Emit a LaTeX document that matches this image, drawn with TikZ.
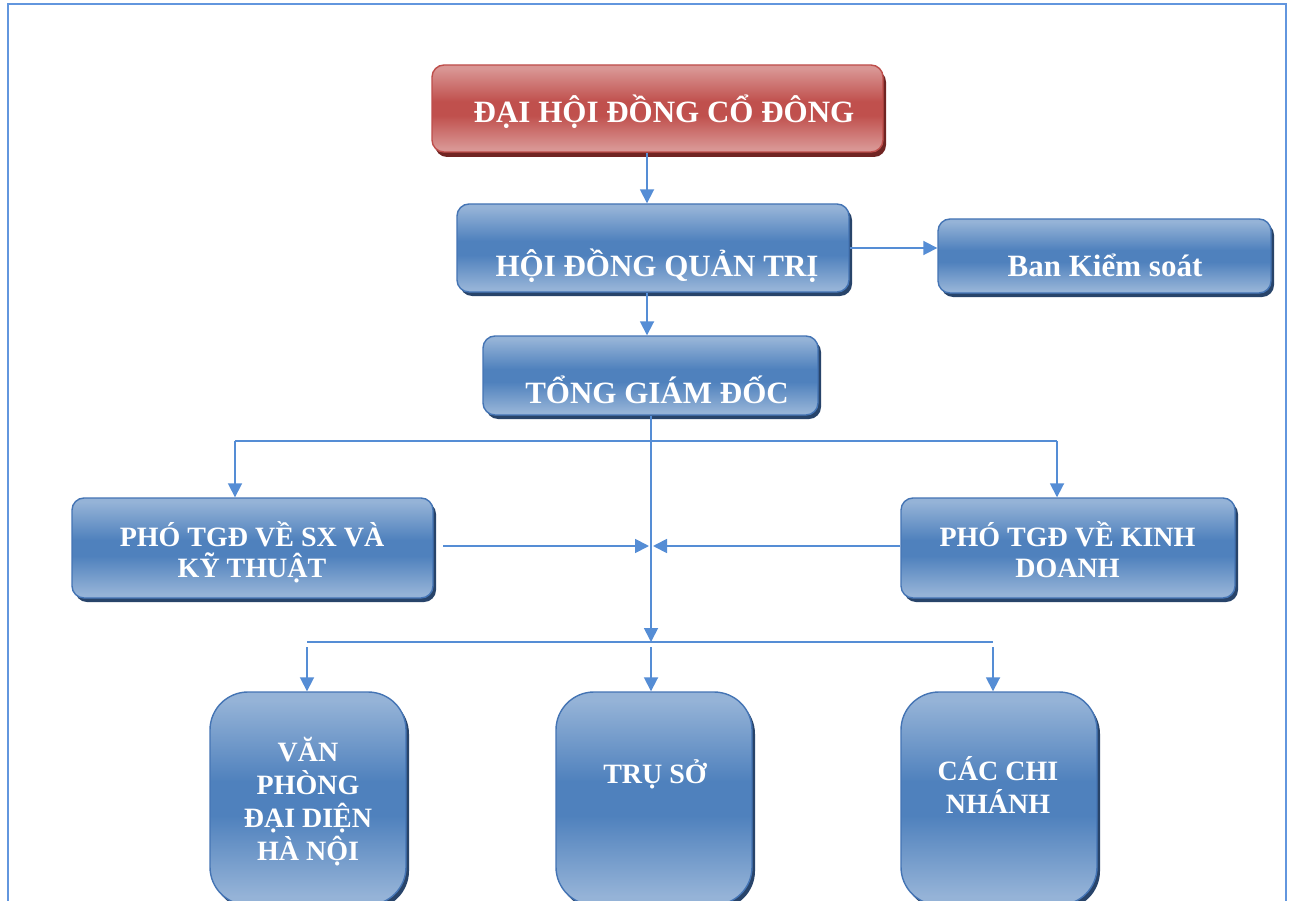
\documentclass[tikz,border=0pt]{standalone}
\usepackage{fontspec}
\setmainfont{Liberation Serif}
\usetikzlibrary{arrows.meta,shadows,calc}

\definecolor{bl}{RGB}{149,179,215}
\definecolor{bd}{RGB}{79,129,189}
\definecolor{rl}{RGB}{217,150,148}
\definecolor{rd}{RGB}{192,80,77}
\definecolor{bbord}{RGB}{68,116,180}
\definecolor{rbord}{RGB}{190,78,75}
\definecolor{bshad}{RGB}{40,68,106}
\definecolor{rshad}{RGB}{112,36,34}
\definecolor{lnc}{RGB}{85,141,213}
\definecolor{frm}{RGB}{98,150,222}

\pgfdeclareverticalshading{bglass}{100bp}{color(0bp)=(bl); color(27bp)=(bl); color(46bp)=(bd); color(54bp)=(bd); color(73bp)=(bl); color(100bp)=(bl)}
\pgfdeclareverticalshading{rglass}{100bp}{color(0bp)=(rl); color(27bp)=(rl); color(46bp)=(rd); color(54bp)=(rd); color(73bp)=(rl); color(100bp)=(rl)}

\tikzset{
  bbox/.style={rounded corners=12pt, draw=bbord, line width=1.4pt, shading=bglass, inner sep=0pt,
    drop shadow={shadow xshift=3pt, shadow yshift=-4pt, fill=bshad, opacity=1}},
  rbox/.style={rounded corners=12pt, draw=rbord, line width=1.4pt, shading=rglass, inner sep=0pt,
    drop shadow={shadow xshift=3pt, shadow yshift=-5pt, fill=rshad, opacity=1}},
  tbox/.style={bbox, rounded corners=38pt},
  txt/.style={text=white, font=\fontsize{31}{36}\selectfont\bfseries, inner sep=0pt, anchor=base},
  txts/.style={text=white, font=\fontsize{28}{31}\selectfont\bfseries, inner sep=0pt, anchor=base, align=center},
  txtb/.style={text=white, font=\fontsize{28}{33}\selectfont\bfseries, inner sep=0pt, anchor=base, align=center},
  ln/.style={draw=lnc, line width=1.8pt},
  arr/.style={ln, -{Triangle[length=14pt,width=14pt]}}
}

\begin{document}
\begin{tikzpicture}[x=1pt,y=-1pt]
\useasboundingbox (0,0) rectangle (1289,901);
\clip (0,0) rectangle (1289,901);
\fill[white] (0,0) rectangle (1289,901);
\draw[frm, line width=2pt] (8,4) rectangle (1286,930);

% boxes
\node[rbox, minimum width=451pt, minimum height=87pt] (dh) at (657.5,108.5) {};
\node[bbox, minimum width=392pt, minimum height=88pt] (hd) at (653,248) {};
\node[bbox, minimum width=333pt, minimum height=74pt] (bk) at (1104.5,256) {};
\node[bbox, minimum width=335pt, minimum height=79pt] (tg) at (650.5,375.5) {};
\node[bbox, minimum width=361pt, minimum height=100pt] (ps) at (252.5,548) {};
\node[bbox, minimum width=334pt, minimum height=100pt] (pk) at (1068,548) {};
\node[tbox, minimum width=196pt, minimum height=213pt] (vp) at (308,798.5) {};
\node[tbox, minimum width=196pt, minimum height=213pt] (ts) at (654,798.5) {};
\node[tbox, minimum width=196pt, minimum height=213pt] (cn) at (999,798.5) {};

% texts (base anchor = baseline of last line)
\node[txt] (dht) at (664,123) {ĐẠI HỘI ĐỒNG CỔ ĐÔNG};
\node[txt] (hdt) at (657,276) {HỘI ĐỒNG QUẢN TRỊ};
\node[txt] (bkt) at (1105,276) {Ban Kiểm soát};
\node[txt] (tgt) at (657,403) {TỔNG GIÁM ĐỐC};
\node[txts] (pst) at (252,577) {PHÓ TGĐ VỀ SX VÀ\\KỸ THUẬT};
\node[txts] (pkt) at (1067.5,577) {PHÓ TGĐ VỀ KINH\\DOANH};
\node[txtb] (vpt) at (308,860) {VĂN\\PHÒNG\\ĐẠI DIỆN\\HÀ NỘI};
\node[txtb] (tst) at (655,783) {TRỤ SỞ};
\node[txtb] (cnt) at (998,813) {CÁC CHI\\NHÁNH};

% coordinates
\coordinate (ax) at (647,0);
\coordinate (cx) at (651,0);
\coordinate (b1l) at (235,441);
\coordinate (b1r) at (1057,441);
\coordinate (b2l) at (307,642);
\coordinate (b2c) at (651,642);
\coordinate (b2r) at (993,642);
\coordinate (m1) at (651,546);
\coordinate (pl) at (443,546);

% connectors
\draw[arr] (dh.south -| ax) -- (hd.north -| ax);
\draw[arr] (hd.east) -- (hd.east -| bk.west);
\draw[arr] (hd.south -| ax) -- (tg.north -| ax);
\draw[arr] (tg.south -| cx) -- (b2c);
\draw[ln] (b1l) -- (b1r);
\draw[arr] (b1l) -- (b1l |- ps.north);
\draw[arr] (b1r) -- (b1r |- pk.north);
\draw[arr] (pl) -- ($(m1)+(-2,0)$);
\draw[arr] (pk.west |- m1) -- ($(m1)+(2,0)$);
\draw[ln] (b2l) -- (b2r);
\draw[arr] ($(b2l)+(0,5)$) -- (b2l |- vp.north);
\draw[arr] ($(b2c)+(0,5)$) -- (b2c |- ts.north);
\draw[arr] ($(b2r)+(0,5)$) -- (b2r |- cn.north);
\end{tikzpicture}
\end{document}
